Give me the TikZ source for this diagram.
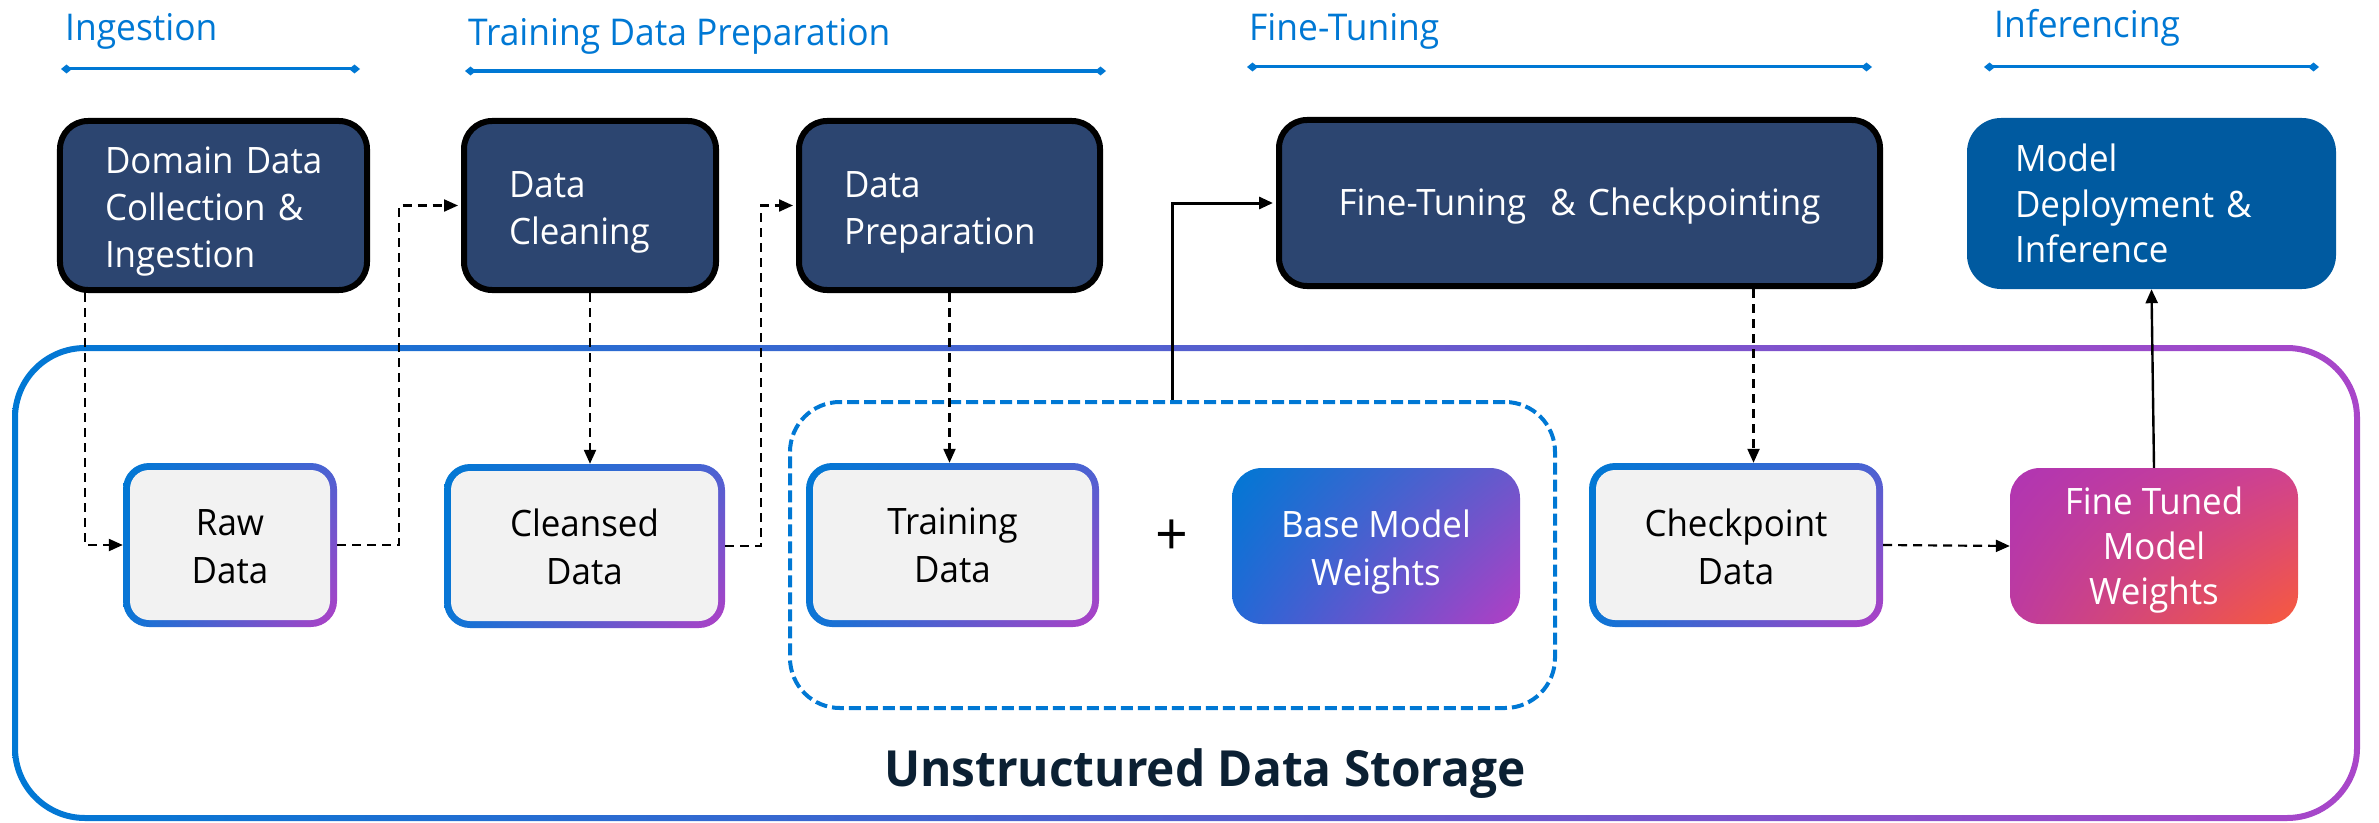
\documentclass[tikz,border=0pt]{standalone}
\usepackage{fontspec}
\setmainfont{Open Sans}[FakeStretch=0.96]
\usetikzlibrary{arrows.meta,calc,shadings}

\definecolor{msblue}{HTML}{0078D4}
\definecolor{navybox}{HTML}{2C4570}
\definecolor{deployblue}{HTML}{005AA0}
\definecolor{panelgray}{HTML}{F2F2F2}
\definecolor{storetext}{HTML}{0B2033}
\definecolor{ringpurple}{HTML}{A946C9}
\definecolor{rimblue}{HTML}{0A76D6}
\definecolor{rimviolet}{HTML}{4C62D2}
\definecolor{rimpurple}{HTML}{B040C6}
\definecolor{bmwUR}{HTML}{6A58CC}
\definecolor{bmwLL}{HTML}{2468D6}
\definecolor{bmwLR}{HTML}{B33EC4}
\definecolor{ftwUL}{HTML}{B035B3}
\definecolor{ftwUR}{HTML}{D0428F}
\definecolor{ftwLL}{HTML}{BE3B9E}
\definecolor{ftwLR}{HTML}{F85A3C}

\newcommand\stagefont{\fontsize{36.5}{47}\selectfont}
\newcommand\panelfont{\fontsize{36.5}{48}\selectfont}
\newcommand\phasefont{\fontsize{37}{43}\selectfont}
% invisible strut that lowers a text block inside its box
\newcommand\toppad[1]{\rule{0pt}{#1}}

\tikzset{
  phase/.style={text=msblue, font=\phasefont, anchor=base west, inner sep=0pt},
  span/.style={draw=msblue, line width=3bp,
    {Diamond[length=11bp,width=9bp]}-{Diamond[length=11bp,width=9bp]}},
  stage/.style={fill=navybox, draw=black, line width=6bp, rounded corners=28bp,
    text=white, font=\stagefont, align=left, inner xsep=45bp, inner ysep=0pt,
    minimum height=169bp},
  deploybox/.style={fill=deployblue, rounded corners=34bp, text=white,
    font=\fontsize{36.5}{46}\selectfont, align=left, inner xsep=48bp, inner ysep=0pt,
    minimum height=171bp},
  panel/.style={rounded corners=26bp, minimum height=164bp, inner sep=0pt,
    align=center, font=\panelfont, text=black,
    upper left=msblue, lower left=rimblue, upper right=rimviolet, lower right=rimpurple,
    path picture={\fill[panelgray, rounded corners=19bp]
      ([xshift=7bp,yshift=-7bp]path picture bounding box.north west) rectangle
      ([xshift=-7bp,yshift=7bp]path picture bounding box.south east);}},
  weightbox/.style={rounded corners=30bp, minimum width=288bp, minimum height=156bp,
    inner sep=0pt, align=center, font=\panelfont, text=white},
  flow/.style={draw=black, line width=2.2bp, dash pattern=on 9bp off 6bp,
    -{Triangle[length=14bp,width=12bp]}},
  feed/.style={draw=black, line width=2.6bp, -{Triangle[length=14bp,width=12bp]}},
}

\begin{document}
\begin{tikzpicture}[x=1bp,y=-1bp]
\useasboundingbox (0,0) rectangle (2379,822);

% storage frame: gradient ring
\shade[left color=msblue, right color=ringpurple, even odd rule]
  [rounded corners=73bp] (12,345) rectangle (2360,821)
  [rounded corners=67bp] (18,351) rectangle (2354,815);

% phase headings
\node[phase] (phIngest) at (65,41) {Ingestion};
\node[phase] (phPrep) at (468,46) {Training Data Preparation};
\node[phase] (phTune) at (1249,41) {Fine-Tuning};
\node[phase] (phInfer) at (1994,38) {Inferencing};
\draw[span] (61,69) -- (360,69);
\draw[span] (465,71) -- (1106,71);
\draw[span] (1247,67) -- (1872,67);
\draw[span] (1984,67) -- (2319,67);

% process stages
\node[stage, minimum width=307bp, text width=217bp] (domain) at (213.5,205.5)
  {\toppad{39bp}\mbox{Domain Data}\\Collection \&\\Ingestion};
\node[stage, minimum width=252bp, text width=162bp] (clean) at (590,205.5)
  {\toppad{40bp}Data\\Cleaning};
\node[stage, minimum width=301bp, text width=211bp] (prep) at (949.5,205.5)
  {\toppad{40bp}Data\\Preparation};
\node[stage, minimum width=601bp, text width=511bp, align=center, minimum height=166bp]
  (ft) at (1579.5,203) {\toppad{33bp}Fine-Tuning~~\& Checkpointing};
\node[deploybox, minimum width=369bp, text width=273bp] (deploy) at (2151.5,203.5)
  {Model\\\mbox{Deployment \&}\\Inference};

% training bundle
\node[draw=msblue, line width=4bp, dash pattern=on 12bp off 5bp, rounded corners=50bp,
  minimum width=765bp, minimum height=306bp] (group) at (1172.5,555) {};

% data artefacts
\node[panel, minimum width=214bp] (raw) at (230,545) {\toppad{30bp}Raw\\Data};
\node[panel, minimum width=281bp] (cleansed) at (584.5,546) {\toppad{30bp}Cleansed\\Data};
\node[panel, minimum width=293bp] (training) at (952.5,545) {Training\\Data};
\node[font=\fontsize{60}{60}\selectfont, inner sep=0pt] (plus) at (1172,538) {+};
\node[weightbox, upper left=msblue, upper right=bmwUR, lower left=bmwLL, lower right=bmwLR]
  (base) at (1376,546) {\toppad{40bp}Base Model\\Weights};
\node[panel, minimum width=294bp] (ckpt) at (1736,545) {\toppad{31bp}Checkpoint\\Data};
\node[weightbox, upper left=ftwUL, upper right=ftwUR, lower left=ftwLL, lower right=ftwLR,
  font=\fontsize{36.5}{45}\selectfont] (tuned) at (2154,546)
  {\toppad{36bp}Fine Tuned\\Model\\Weights};

\node[font=\fontsize{50}{56}\selectfont\bfseries, text=storetext, anchor=base, inner sep=0pt]
  (storeTitle) at (1205,786) {Unstructured Data Storage};

% connectors
\draw[flow] ($(domain.south west)+(28,0)$) |- (raw.west);
\draw[flow] (raw.east) -- ++(62,0) |- ([xshift=-3bp]clean.west);
\draw[flow] (clean.south) -- (clean.south |- cleansed.north);
\draw[flow] (cleansed.east) -- ++(36,0) |- ([xshift=-3bp]prep.west);
\draw[flow] (prep.south) -- (prep.south |- training.north);
\draw[feed, line width=3bp] (group.north) |- ([xshift=-3bp]ft.west);
\draw[flow] ($(ft.south)+(174,0)$) coordinate (ftdrop) -- (ftdrop |- ckpt.north);
\draw[flow] (ckpt.east) -- (tuned.west);
\draw[feed, line width=2.4bp] (tuned.north) -- (deploy.south);
\end{tikzpicture}
\end{document}
